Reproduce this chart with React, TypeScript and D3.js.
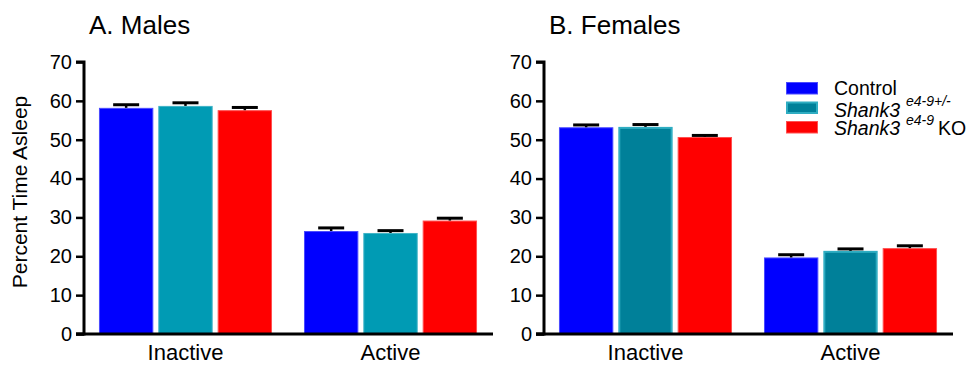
import { useEffect, useRef } from "react";
import * as d3 from "d3";

const groups = ["Inactive", "Active"];
const genotypes = ["Control", "Het", "KO"];
const yTicks = [0, 10, 20, 30, 40, 50, 60, 70];

// means per group (Inactive, Active), per genotype (Control, Het, KO)
const malesMeans = [[58.2, 58.7, 57.6], [26.5, 26.0, 29.2]];
const malesSem = [[0.8, 0.8, 0.7], [0.8, 0.6, 0.6]];
const femalesMeans = [[53.2, 53.3, 50.7], [19.7, 21.4, 22.1]];
const femalesSem = [[0.6, 0.6, 0.4], [0.7, 0.5, 0.6]];

const FONT = "'Liberation Sans', Arial, sans-serif";

const App = () => {
  const svgRef = useRef<SVGSVGElement>(null);

  useEffect(() => {
    const svg = d3.select(svgRef.current);
    svg.selectAll("*").remove();

    const width = 966;
    const height = 365;
    const top = 62;
    const bottom = 334;

    svg.attr("viewBox", `0 0 ${width} ${height}`);

    const y = d3.scaleLinear().domain([0, 70]).range([bottom, top]);

    const panels = [
      { x0: 84, title: "A. Males", means: malesMeans, sem: malesSem,
        fills: ["#0000ff", "#009bb4", "#ff0000"], strokes: ["#4a4aff", "#3fb3c6", "#ff5050"], sw: [1, 1, 1] },
      { x0: 544, title: "B. Females", means: femalesMeans, sem: femalesSem,
        fills: ["#0000ff", "#008099", "#ff0000"], strokes: ["#4a4aff", "#2fadc2", "#ff5050"], sw: [1, 2, 1] },
    ];

    panels.forEach(p => {
      const g = svg.append("g");

      const x = d3.scaleBand()
        .domain(groups)
        .range([p.x0, p.x0 + 408])
        .paddingInner(0.156)
        .paddingOuter(0.073);

      const xi = d3.scaleBand()
        .domain(genotypes)
        .range([0, x.bandwidth()])
        .paddingInner(0.084);

      // bars
      groups.forEach((grp, gi) => {
        const gg = g.append("g").attr("transform", `translate(${x(grp)},0)`);
        genotypes.forEach((gt, k) => {
          const v = p.means[gi][k];
          const e = p.sem[gi][k];
          const bx = xi(gt)!;
          const inset = p.sw[k] / 2;
          gg.append("rect")
            .attr("x", bx + inset)
            .attr("y", y(v) + inset)
            .attr("width", xi.bandwidth() - 2 * inset)
            .attr("height", bottom - y(v) - inset)
            .attr("fill", p.fills[k])
            .attr("stroke", p.strokes[k])
            .attr("stroke-width", p.sw[k]);
          const cx = bx + xi.bandwidth() / 2;
          gg.append("line")
            .attr("x1", cx).attr("x2", cx)
            .attr("y1", y(v)).attr("y2", y(v + e))
            .attr("stroke", "#000").attr("stroke-width", 2.5);
          gg.append("line")
            .attr("x1", cx - 13).attr("x2", cx + 13)
            .attr("y1", y(v + e)).attr("y2", y(v + e))
            .attr("stroke", "#000").attr("stroke-width", 3);
        });
      });

      // y axis
      const yAxis = g.append("g")
        .attr("transform", `translate(${p.x0},0)`)
        .call(d3.axisLeft(y).tickValues(yTicks).tickSize(8).tickPadding(4).tickFormat(d3.format("d")));
      yAxis.select(".domain").attr("stroke", "#000").attr("stroke-width", 3)
        .attr("d", `M-8,${top}H0V${bottom}H-8`);
      yAxis.selectAll(".tick line").attr("stroke", "#000").attr("stroke-width", 2.5);
      yAxis.selectAll(".tick text")
        .attr("font-family", FONT).attr("font-size", 20).attr("fill", "#000");

      // x axis
      g.append("line")
        .attr("x1", p.x0 - 8).attr("x2", p.x0 + 409)
        .attr("y1", bottom).attr("y2", bottom)
        .attr("stroke", "#000").attr("stroke-width", 3);

      groups.forEach(grp => {
        g.append("text")
          .attr("x", x(grp)! + x.bandwidth() / 2)
          .attr("y", 360)
          .attr("text-anchor", "middle")
          .attr("font-family", FONT)
          .attr("font-size", 22)
          .text(grp);
      });

      g.append("text")
        .attr("x", p.x0 + 5)
        .attr("y", 34)
        .attr("font-family", FONT)
        .attr("font-size", 26)
        .text(p.title);
    });

    // y label
    svg.append("text")
      .attr("transform", "translate(27,192) rotate(-90)")
      .attr("text-anchor", "middle")
      .attr("font-family", FONT)
      .attr("font-size", 21)
      .text("Percent Time Asleep");

    // legend
    const legend = svg.append("g").attr("font-family", FONT);
    const swFill = ["#0000ff", "#008099", "#ff0000"];
    const swStroke = ["#4a4aff", "#2fadc2", "#ff5050"];
    const swW = [1, 2, 1];
    const rowsY = [82, 101.5, 121];
    genotypes.forEach((gt, k) => {
      legend.append("rect")
        .attr("x", 786 + swW[k] / 2).attr("y", rowsY[k] + swW[k] / 2)
        .attr("width", 32 - swW[k]).attr("height", 12.5 - swW[k])
        .attr("fill", swFill[k]).attr("stroke", swStroke[k]).attr("stroke-width", swW[k]);
    });

    legend.append("text")
      .attr("x", 834).attr("y", 95)
      .attr("font-size", 19.5)
      .text("Control");

    legend.append("text")
      .attr("x", 834).attr("y", 117)
      .attr("font-size", 19.5).attr("font-style", "italic")
      .text("Shank3");
    legend.append("text")
      .attr("x", 906).attr("y", 106)
      .attr("font-size", 14).attr("font-style", "italic")
      .text("e4-9+/-");

    legend.append("text")
      .attr("x", 834).attr("y", 135)
      .attr("font-size", 19.5).attr("font-style", "italic")
      .text("Shank3");
    legend.append("text")
      .attr("x", 906).attr("y", 125)
      .attr("font-size", 14).attr("font-style", "italic")
      .text("e4-9");
    legend.append("text")
      .attr("x", 938).attr("y", 135)
      .attr("font-size", 19.5)
      .text("KO");
  }, []);

  return <svg ref={svgRef} width={966} height={365} style={{ display: "block", position: "absolute", left: 0, top: 0 }} />;
};

export default App;
